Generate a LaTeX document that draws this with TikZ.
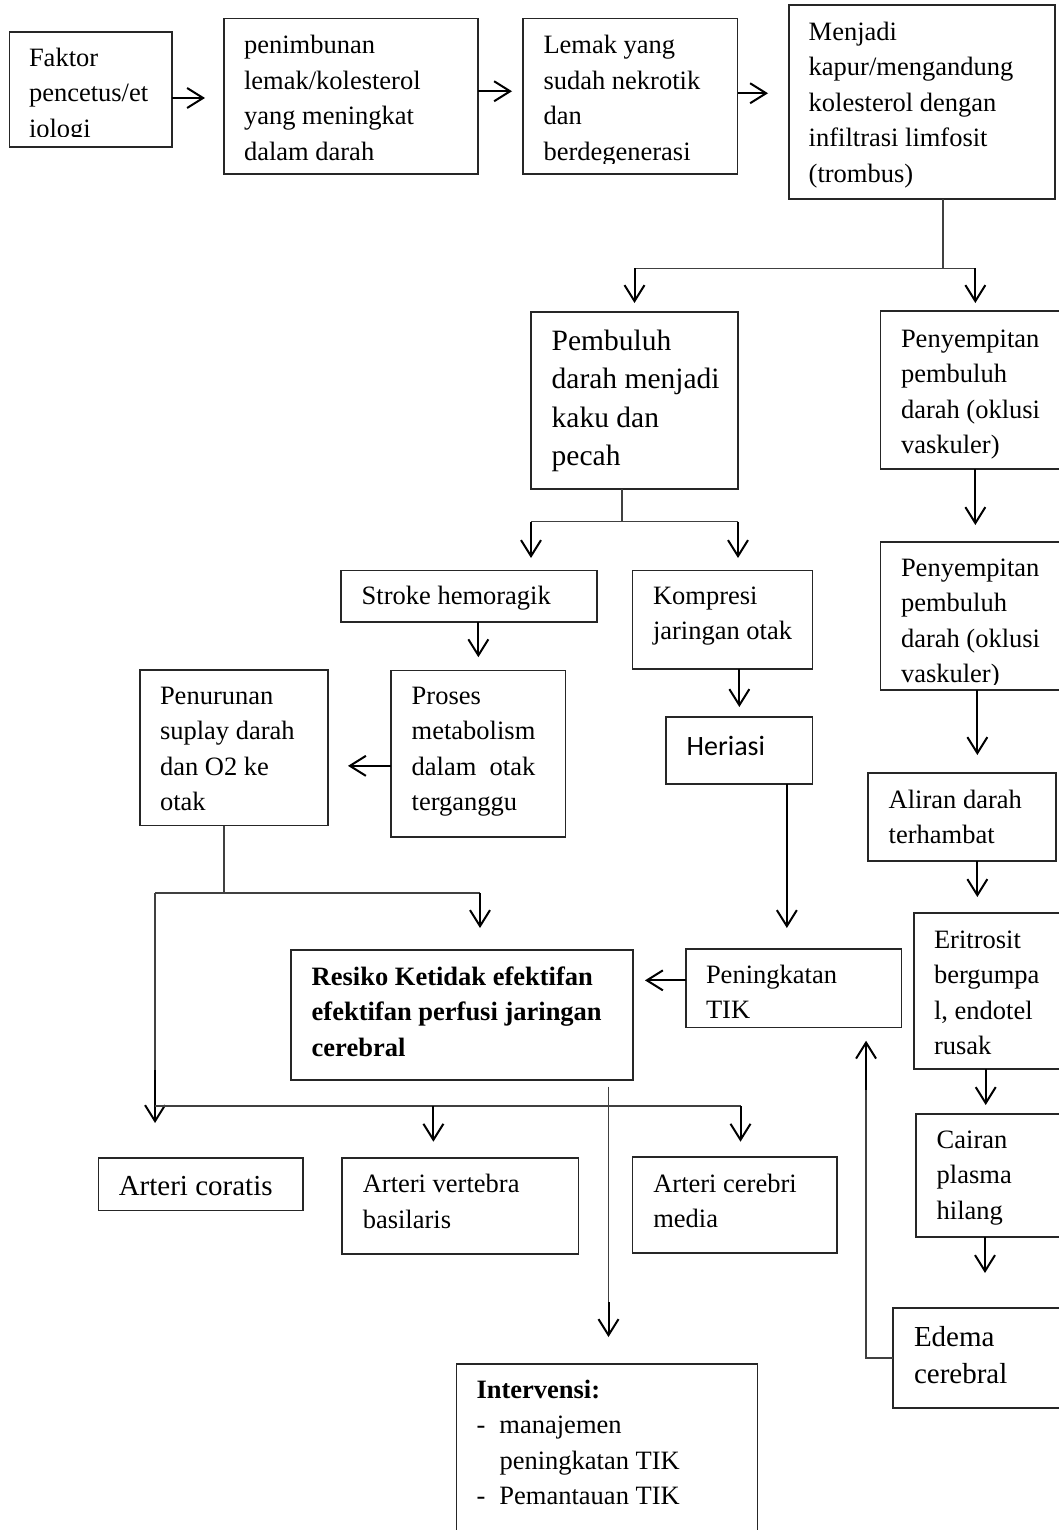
\documentclass[tikz,border=0pt]{standalone}
\usepackage{fontspec}
\setmainfont{Liberation Serif}
\newfontfamily\calib{Carlito}
\usetikzlibrary{arrows.meta,calc}
\newcommand\ml[1]{\vtop{\halign{##\hfil\cr#1\crcr}}}
\newcommand\BX[5]{\node[box, minimum width={#4-#2}, minimum height={#5-#3}] (#1) at (#2,#3) {};}
\newcommand\TX[5][]{\node[txt,#1] (#2-t) at (#3,#4) {\ml{#5}};}
\tikzset{
  box/.style={draw=black!85, line width=1.3pt, inner sep=0pt, outer sep=0pt, anchor=north west},
  txt/.style={inner sep=0pt, outer sep=0pt, anchor=base west, font=\fontsize{26.5}{35.5}\selectfont},
  bigtxt/.style={font=\fontsize{29.5}{38.5}\selectfont},
  midtxt/.style={font=\fontsize{29}{37}\selectfont},
  line/.style={draw=black!75, line width=1.4pt},
  arr/.style={draw=black, line width=2pt, -{Straight Barb[length=16pt,width=20pt]}},
}
\begin{document}
\begin{tikzpicture}[x=1pt,y=-1pt]
\useasboundingbox (0,0) rectangle (1059,1530);
\fill[white] (0,0) rectangle (1059,1530);
% boxes
\BX{faktor}{9.5}{32}{172}{147}
\BX{penim}{224}{18.5}{478}{174}
\BX{lemak}{523}{18.5}{737.5}{174}
\BX{menjadi}{789}{5}{1055}{199}
\BX{pembuluh}{531}{312}{738}{489}
\BX{peny1}{880.7}{311}{1070}{469}
\BX{peny2}{880.7}{542}{1070}{690}
\BX{stroke}{341}{570.5}{597}{622}
\BX{kompresi}{632.6}{570.7}{812.6}{669}
\BX{proses}{391}{670.7}{565.7}{837}
\BX{penurunan}{140}{670}{328}{825.7}
\BX{heriasi}{666}{717}{812.7}{784}
\BX{aliran}{868}{773}{1056}{861}
\BX{eritrosit}{914}{913}{1070}{1069}
\BX{cairan}{916}{1114}{1070}{1237}
\BX{edema}{893}{1308}{1070}{1408}
\BX{peningkatan}{686}{949}{901.7}{1027.7}
\BX{resiko}{291}{950}{633}{1080}
\BX{coratis}{98.7}{1158}{303}{1210.7}
\BX{vertebra}{342}{1158}{578.6}{1254}
\BX{cerebri}{632.6}{1157}{837}{1253}
\BX{intervensi}{456.4}{1364}{757.8}{1545}
% texts
\begin{scope}
\clip (faktor.north west) rectangle ($(faktor.south east)+(0,-10)$);
\TX{faktor}{29}{66.5}{Faktor\cr pencetus/et\cr iologi}
\end{scope}
\TX{penim}{244}{54}{penimbunan\cr lemak/kolesterol\cr yang meningkat\cr dalam darah}
\begin{scope}
\clip (lemak.north west) rectangle ($(lemak.south east)+(0,-10.5)$);
\TX{lemak}{543.5}{54}{Lemak yang\cr sudah nekrotik\cr dan\cr berdegenerasi}
\end{scope}
\TX{menjadi}{808.7}{40.5}{Menjadi\cr kapur/mengandung\cr kolesterol dengan\cr infiltrasi limfosit\cr (trombus)}
\TX[bigtxt]{pembuluh}{551.7}{350}{Pembuluh\cr darah menjadi\cr kaku dan\cr pecah}
\TX{peny1}{901}{347}{Penyempitan\cr pembuluh\cr darah (oklusi\cr vaskuler)}
\begin{scope}
\clip (peny2.north west) rectangle ($(peny2.south east)+(0,-6)$);
\TX{peny2}{901}{576}{Penyempitan\cr pembuluh\cr darah (oklusi\cr vaskuler)}
\end{scope}
\TX{stroke}{361.7}{604}{Stroke hemoragik}
\TX{kompresi}{653}{604}{Kompresi\cr jaringan otak}
\TX{proses}{411.7}{704}{Proses\cr metabolism\cr dalam~~otak\cr terganggu}
\TX{penurunan}{160}{704}{Penurunan\cr suplay darah\cr dan O2 ke\cr otak}
\TX[font=\calib\fontsize{28}{34}\selectfont]{heriasi}{686.7}{755}{Heriasi}
\TX{aliran}{888.7}{808}{Aliran darah\cr terhambat}
\TX{eritrosit}{934}{948}{Eritrosit\cr bergumpa\cr l, endotel\cr rusak}
\TX{cairan}{936.7}{1148}{Cairan\cr plasma\cr hilang}
\TX[midtxt]{edema}{914}{1346}{Edema\cr cerebral}
\TX{peningkatan}{706}{983}{Peningkatan\cr TIK}
\TX[font=\fontsize{26.5}{35.5}\selectfont\bfseries]{resiko}{311.7}{985}{Resiko Ketidak efektifan\cr efektifan perfusi jaringan\cr cerebral}
\TX[midtxt]{coratis}{118.8}{1195}{Arteri coratis}
\TX{vertebra}{362.8}{1192.7}{Arteri vertebra\cr basilaris}
\TX{cerebri}{653.3}{1192}{Arteri cerebri\cr media}
\TX{intervensi}{476.5}{1398}{\textbf{Intervensi:}\cr \makebox[23pt][l]{-}manajemen\cr \hspace*{23pt}peningkatan TIK\cr \makebox[23pt][l]{-}Pemantauan TIK}
% top row arrows
\coordinate (a1) at ($(faktor.east)+(0,8.5)$);
\draw[arr, shorten >=19pt] (a1) -- (a1 -| penim.west);
\coordinate (a2) at ($(penim.east)+(0,-5)$);
\draw[arr, shorten >=11pt] (a2) -- (a2 -| lemak.west);
\coordinate (a3) at ($(lemak.east)+(0,-3)$);
\draw[arr, shorten >=21pt] (a3) -- (a3 -| menjadi.west);
% split from menjadi
\coordinate (m0) at ($(menjadi.south)+(21,0)$);
\coordinate (m1) at ($(m0)+(0,69.3)$);
\draw[line] (m0) -- (m1);
\draw[line] (m1 -| pembuluh.north) -- (m1 -| peny1.north);
\draw[arr, shorten >=9pt] (m1 -| pembuluh.north) -- (pembuluh.north);
\draw[arr, shorten >=8pt] (m1 -| peny1.north) -- (peny1.north);
% right column
\draw[arr, shorten >=17pt] (peny1.south) -- (peny2.north);
\coordinate (v0) at ($(peny2.south)+(2,0)$);
\draw[arr, shorten >=18pt] (v0) -- (v0 |- aliran.north);
\draw[arr, shorten >=16pt] (v0 |- aliran.south) -- (v0 |- eritrosit.north);
\coordinate (e0) at ($(eritrosit.south)+(-6.3,0)$);
\draw[arr, shorten >=9pt] (e0) -- (e0 |- cairan.north);
\coordinate (c0) at ($(cairan.south)+(-8,0)$);
\draw[arr, shorten >=35pt] (c0) -- (c0 |- edema.north);
\coordinate (d0) at ($(peningkatan.south)+(72.2,0)$);
\coordinate (d1) at ($(d0)+(0,62)$);
\draw[line] (edema.west) -| (d1);
\draw[arr, shorten >=13pt] (d1) -- (d0);
% pembuluh split
\coordinate (p0) at ($(pembuluh.south)+(-12.5,0)$);
\coordinate (p1) at ($(p0)+(0,32.7)$);
\draw[line] (p0) -- (p1);
\draw[line] (p1 -| pembuluh.west) -- (p1 -| pembuluh.east);
\draw[arr, shorten >=12.5pt] (p1 -| pembuluh.west) -- (stroke.north -| pembuluh.west);
\draw[arr, shorten >=12.7pt] (p1 -| pembuluh.east) -- (kompresi.north -| pembuluh.east);
\draw[arr, shorten >=13.5pt] (stroke.south -| proses.north) -- (proses.north);
\coordinate (q0) at ($(proses.west)+(0,12)$);
\draw[arr, shorten >=20pt] (q0) -- (q0 -| penurunan.east);
\draw[arr, shorten >=10pt] (kompresi.south -| heriasi.north) -- (heriasi.north);
\coordinate (h0) at ($(heriasi.south)+(47.5,0)$);
\draw[arr, shorten >=21pt] (h0) -- (h0 |- peningkatan.north);
\coordinate (t0) at ($(peningkatan.west)+(0,-8)$);
\draw[arr, shorten >=12pt] (t0) -- (t0 -| resiko.east);
% penurunan split
\coordinate (u0) at ($(penurunan.south)+(-10,0)$);
\coordinate (u1) at ($(u0)+(0,67.3)$);
\coordinate (lx) at ($(coratis.north)+(-45.8,0)$);
\coordinate (r0) at ($(resiko.north)+(18,0)$);
\coordinate (b0) at ($(resiko.south)+(0,26)$);
\draw[line] (u0) -- (u1);
\draw[line] (u1 -| lx) -- (u1 -| r0);
\draw[arr, shorten >=22pt] (u1 -| r0) -- (r0);
\draw[line] (u1 -| lx) -- (lx |- b0);
\draw[arr, shorten >=35pt] ($(lx |- b0)+(0,-36)$) -- (lx |- coratis.north);
\coordinate (vx) at ($(vertebra.north)+(-26.9,0)$);
\coordinate (cx) at ($(cerebri.north)+(5.7,0)$);
\draw[line] (lx |- b0) -- (cx |- b0);
\draw[arr, shorten >=16.3pt] (vx |- b0) -- (vx);
\draw[arr, shorten >=15.3pt] (cx |- b0) -- (cx);
% resiko to intervensi
\coordinate (i0) at ($(resiko.south)+(146.5,6.7)$);
\coordinate (i1) at (i0 |- intervensi.north);
\draw[line] (i0) -- ($(i1)+(0,-62)$);
\draw[arr, shorten >=27pt] ($(i1)+(0,-62)$) -- (i1);
\end{tikzpicture}
\end{document}
